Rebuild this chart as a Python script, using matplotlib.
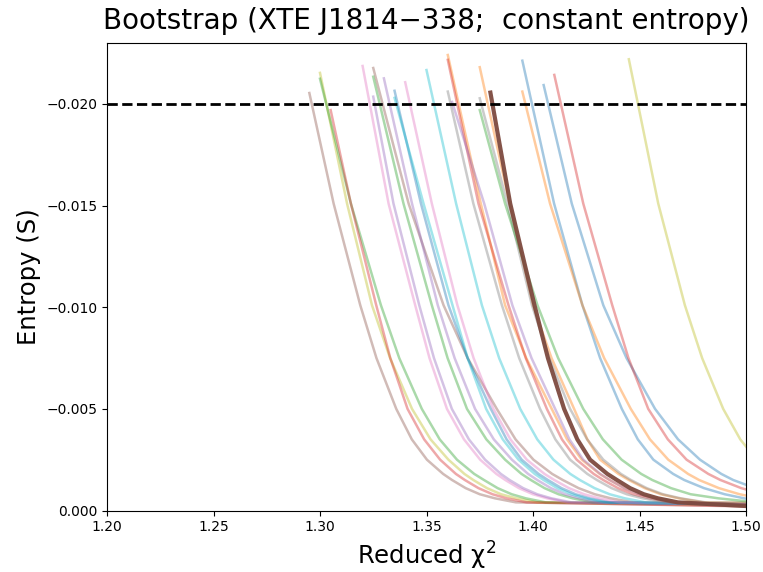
import numpy as np
import matplotlib
matplotlib.use("Agg")
import matplotlib.pyplot as plt

# ---- data ----
colors = ["tab:brown", "tab:olive", "tab:green", "tab:red", "tab:pink",
          "tab:brown", "tab:green", "tab:purple", "tab:purple", "tab:blue",
          "tab:cyan", "tab:pink", "tab:cyan", "tab:orange", "tab:red",
          "tab:gray", "tab:orange", "tab:gray", "tab:green", "tab:brown",
          "tab:blue", "tab:orange", "tab:blue", "tab:red", "tab:olive",
          "tab:purple"]
highlight = 19  # index of the thick curve

start_x = [1.295, 1.300, 1.300, 1.305, 1.320, 1.325, 1.325, 1.325, 1.330, 1.335,
           1.335, 1.340, 1.350, 1.360, 1.360, 1.360, 1.375, 1.375, 1.375, 1.380,
           1.395, 1.395, 1.405, 1.410, 1.445, 1.362]
start_y = [-0.02054, -0.02153, -0.02124, -0.01970, -0.02187, -0.02177, -0.02134,
           -0.02036, -0.02126, -0.02065, -0.02030, -0.02107, -0.02167, -0.02241,
           -0.02217, -0.02061, -0.02181, -0.02028, -0.01970, -0.02056, -0.02213,
           -0.02061, -0.02093, -0.02143, -0.02220, -0.02010]

# entropy levels, and the x position where each curve crosses them
levels = [-0.0151, -0.0101, -0.0075, -0.0050, -0.0035, -0.0025, -0.0018,
          -0.0015, -0.0011, -0.0008, -0.0006, -0.0004]
x_m0151 = [1.3064, 1.3127, 1.3145, 1.3145, 1.3322, 1.3416, 1.3392, 1.3345, 1.3432, 1.3474,
           1.3486, 1.3525, 1.3639, 1.3755, 1.3744, 1.3720, 1.3890, 1.3880, 1.3869, 1.3893,
           1.4099, 1.4080, 1.4182, 1.4236, 1.4588, 1.3771]
x_m0101 = [1.3189, 1.3244, 1.3286, 1.3264, 1.3447, 1.3580, 1.3525, 1.3466, 1.3553, 1.3603,
           1.3622, 1.3645, 1.3760, 1.3869, 1.3885, 1.3854, 1.4000, 1.3995, 1.4021, 1.4007,
           1.4232, 1.4232, 1.4330, 1.4372, 1.4713, 1.3903]
x_m0075 = [1.3265, 1.3329, 1.3372, 1.3330, 1.3514, 1.3693, 1.3599, 1.3535, 1.3632, 1.3693,
           1.3693, 1.3721, 1.3841, 1.3968, 1.3966, 1.3935, 1.4087, 1.4076, 1.4118, 1.4070,
           1.4315, 1.4334, 1.4439, 1.4448, 1.4794, 1.3993]
x_m0050 = [1.3358, 1.3432, 1.3478, 1.3411, 1.3596, 1.3830, 1.3690, 1.3619, 1.3728, 1.3802,
           1.3780, 1.3814, 1.3940, 1.4088, 1.4065, 1.4033, 1.4193, 1.4174, 1.4236, 1.4146,
           1.4417, 1.4459, 1.4573, 1.4541, 1.4893, 1.4104]
x_m0035 = [1.3431, 1.3519, 1.3562, 1.3489, 1.3676, 1.3918, 1.3781, 1.3699, 1.3816, 1.3876,
           1.3858, 1.3894, 1.4020, 1.4160, 1.4136, 1.4105, 1.4255, 1.4254, 1.4328, 1.4208,
           1.4492, 1.4549, 1.4681, 1.4633, 1.4973, 1.4171]
x_m0025 = [1.3502, 1.3603, 1.3643, 1.3564, 1.3752, 1.4002, 1.3869, 1.3775, 1.3901, 1.3947,
           1.3932, 1.3971, 1.4096, 1.4229, 1.4205, 1.4174, 1.4315, 1.4330, 1.4416, 1.4268,
           1.4565, 1.4635, 1.4784, 1.4721, 1.5050, 1.4236]
x_m0018 = [1.3578, 1.3678, 1.3724, 1.3638, 1.3828, 1.4090, 1.3946, 1.3849, 1.3977, 1.4026,
           1.4008, 1.4054, 1.4175, 1.4313, 1.4285, 1.4255, 1.4401, 1.4413, 1.4508, 1.4349,
           1.4658, 1.4728, 1.4884, 1.4823, 1.5150, 1.4316]
x_m0015 = [1.3620, 1.3720, 1.3770, 1.3680, 1.3870, 1.4140, 1.3990, 1.3890, 1.4020, 1.4070,
           1.4050, 1.4100, 1.4220, 1.4360, 1.4330, 1.4300, 1.4450, 1.4460, 1.4560, 1.4394,
           1.4710, 1.4780, 1.4940, 1.4880, 1.5200, 1.4360]
x_m0011 = [1.3684, 1.3784, 1.3834, 1.3744, 1.3934, 1.4214, 1.4054, 1.3954, 1.4084, 1.4134,
           1.4114, 1.4169, 1.4289, 1.4429, 1.4399, 1.4369, 1.4524, 1.4534, 1.4648, 1.4456,
           1.4803, 1.4873, 1.5043, 1.4978, 1.5300, 1.4429]
x_m0008 = [1.3750, 1.3850, 1.3900, 1.3810, 1.4000, 1.4290, 1.4120, 1.4020, 1.4150, 1.4200,
           1.4180, 1.4240, 1.4360, 1.4500, 1.4470, 1.4440, 1.4600, 1.4610, 1.4740, 1.4520,
           1.4900, 1.4970, 1.5150, 1.5080, 1.5400, 1.4500]
x_m0006 = [1.3821, 1.3921, 1.3966, 1.3876, 1.4066, 1.4365, 1.4186, 1.4086, 1.4216, 1.4266,
           1.4246, 1.4311, 1.4431, 1.4575, 1.4545, 1.4515, 1.4683, 1.4693, 1.4869, 1.4586,
           1.4991, 1.5065, 1.5254, 1.5171, 1.5500, 1.4575]
x_m0004 = [1.3920, 1.4020, 1.4060, 1.3970, 1.4160, 1.4470, 1.4280, 1.4180, 1.4310, 1.4360,
           1.4340, 1.4410, 1.4530, 1.4680, 1.4650, 1.4620, 1.4800, 1.4810, 1.5050, 1.4680,
           1.5120, 1.5200, 1.5400, 1.5300, 1.5600, 1.4680]
end_y = [-0.00022, -0.00028, -0.00030, -0.00020, -0.00030, -0.00032, -0.00030, -0.00030,
         -0.00030, -0.00030, -0.00030, -0.00030, -0.00030, -0.00030, -0.00030, -0.00030,
         -0.00038, -0.00038, -0.00045, -0.00022, -0.00060, -0.00070, -0.00070, -0.00070,
         -0.00080, -0.00030]

x_ticks = [1.20, 1.25, 1.30, 1.35, 1.40, 1.45, 1.50]
y_ticks = [0.000, -0.005, -0.010, -0.015, -0.020]
threshold = -0.020

# ---- figure ----
fig = plt.figure(figsize=(7.63, 5.72), dpi=100)
ax = fig.add_axes([107 / 763, 1 - 510.5 / 572, (746 - 107) / 763, (510.5 - 43) / 572])

crossings = [x_m0151, x_m0101, x_m0075, x_m0050, x_m0035, x_m0025, x_m0018,
             x_m0015, x_m0011, x_m0008, x_m0006, x_m0004]


def curve(i):
    xs = [start_x[i]] + [col[i] for col in crossings]
    ys = [start_y[i]] + levels
    if xs[-1] < 1.5:
        xs.append(1.5)
        ys.append(end_y[i])
    return xs, ys


for i, c in enumerate(colors):
    if i == highlight:
        continue
    xs, ys = curve(i)
    ax.plot(xs, ys, color=c, alpha=0.4, lw=1.8, solid_joinstyle="round")

xs, ys = curve(highlight)
ax.plot(xs, ys, color="#7d4a3f", alpha=0.95, lw=3, solid_joinstyle="round")

ax.axhline(threshold, color="black", ls="--", lw=2)

ax.set_xlim(1.20, 1.50)
ax.set_ylim(0.0, -0.023)
ax.set_xticks(x_ticks)
ax.set_yticks(y_ticks)
ax.set_xticklabels([f"{v:.2f}" for v in x_ticks])
ax.set_yticklabels([f"{v:.3f}".replace("-", "\u2212") if v != 0 else "0.000" for v in y_ticks])
ax.tick_params(labelsize=10)

ax.set_xlabel("Reduced \u03c7$^2$", fontsize=17.5)
ax.set_ylabel("Entropy (S)", fontsize=17.5)
ax.set_title("Bootstrap (XTE J1814\u2212338;  constant entropy)", fontsize=20, pad=10)

fig.savefig("out.png", dpi=100)
